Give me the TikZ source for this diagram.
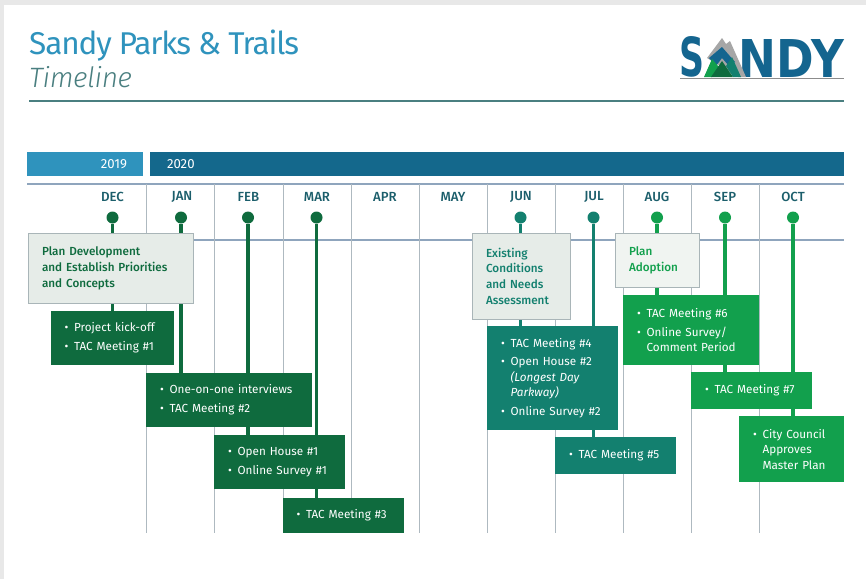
\documentclass[tikz,border=0pt]{standalone}
\usepackage{fontspec}
\usepackage{graphicx}
\setmainfont{Fira Sans}
\newfontfamily\lightf{Fira Sans Light}
\newfontfamily\titlef{Fira Sans}
\newfontfamily\medf{Fira Sans Medium}
\newfontfamily\logof{DejaVu Sans}
\definecolor{cblue}{HTML}{2F93BD}
\definecolor{cnavy}{HTML}{14688C}
\definecolor{clogo}{HTML}{14658F}
\definecolor{crule}{HTML}{4A7F80}
\definecolor{cgrid}{HTML}{8FA5BD}
\definecolor{cvert}{HTML}{AEB9C0}
\definecolor{cdark}{HTML}{0F6B3E}
\definecolor{cteal}{HTML}{13806F}
\definecolor{cgreen}{HTML}{12A04D}
\definecolor{cmonth}{HTML}{1B5E6B}
\definecolor{cphase}{HTML}{E6ECE8}
\definecolor{cedge}{HTML}{A9B5B8}
\newcommand{\bul}[1]{\makebox[9.6pt][l]{\textbullet}#1}
\newcommand{\cont}[1]{\hspace*{9.6pt}{#1}}
\newcommand{\bx}[7]{%
  \pgfmathsetmacro{\bw}{#4-#2}\pgfmathsetmacro{\bh}{#5-#3}\pgfmathsetmacro{\tw}{#4-#2-28}%
  \node[#6,anchor=north west,minimum width=\bw pt,minimum height=\bh pt,text width=\tw pt] (#1) at (#2,#3) {#7};}
\pgfdeclarelayer{gridlayer}
\pgfdeclarelayer{stemlayer}
\pgfsetlayers{gridlayer,stemlayer,main}
\tikzset{
  items/.style={inner xsep=14pt,inner ysep=0pt,text=white,align=left,font=\fontsize{11.7}{15.5}\selectfont,outer sep=0pt},
  dk/.style={items,fill=cdark},
  tl/.style={items,fill=cteal},
  gr/.style={items,fill=cgreen},
  phase/.style={draw=cedge,line width=.8pt,fill=cphase,inner xsep=14pt,inner ysep=0pt,align=left,outer sep=0pt,font=\medf\fontsize{11.7}{15.7}\selectfont},
  month/.style={text=cmonth,font=\medf\fontsize{13.2}{15}\selectfont,inner sep=0pt},
  dot/.style={circle,inner sep=0pt,minimum size=12pt},
  stem/.style={line width=3.6pt},
  yearbar/.style={inner sep=0pt,outer sep=0pt,text=white,font=\fontsize{13.2}{15}\selectfont},
  vgrid/.style={draw=cvert,line width=.9pt},
  hgrid/.style={draw=cgrid,line width=1.2pt},
}
\begin{document}
\begin{tikzpicture}[x=1pt,y=-1pt]
\useasboundingbox (0,0) rectangle (866,579);
\begin{pgfonlayer}{gridlayer}
\fill[white] (0,0) rectangle (866,579);
\fill[black!9] (0,0) rectangle (866,4.5);
\fill[black!9] (0,0) rectangle (4,579);
\draw[hgrid] (27,184) -- (844,184);
\draw[hgrid] (146,240) -- (844,240);
\foreach \x in {146,214.5,283,351,419,487,555,623,691,759}
  \draw[vgrid] (\x,184) -- (\x,533);
\end{pgfonlayer}
% title
\node[anchor=base west,inner sep=0pt,text=cblue,font=\titlef\addfontfeature{LetterSpace=-3.6}\fontsize{31.5}{36}\selectfont] (title) at (29,54) {Sandy Parks \& Trails};
\node[anchor=base west,inner sep=0pt,text=crule,font=\lightf\itshape\addfontfeature{LetterSpace=-1.4}\fontsize{28}{32}\selectfont] (subtitle) at (29,87) {Timeline};
\draw[crule,line width=1.2pt] (29,101) -- (844,101);
% logo
\node[anchor=south west,inner sep=0pt,text=clogo] (logoS) at (679,77.5) {\resizebox{25pt}{40pt}{\logof\bfseries S}};
\node[anchor=south east,inner sep=0pt,text=clogo] (logoNDY) at (844,77.5) {\resizebox{105pt}{38pt}{\logof\bfseries NDY}};
\fill[black!35] (707,58) -- (722,38) -- (726,44) -- (730,41) -- (746,77) -- (738,77) -- cycle;
\fill[clogo] (709,58) -- (722,47) -- (735,62) -- (729,66) -- (722,58) -- (716,66) -- cycle;
\fill[cgreen] (704,77) -- (712,59) -- (719,67) -- (712,77) -- cycle;
\fill[cteal] (726,66) -- (732,57) -- (741,77) -- (733,77) -- cycle;
\fill[cdark] (711,77) -- (722,61) -- (733,77) -- cycle;
\draw[black!45,line width=.6pt] (680,77.8) -- (844,77.8);
% year bars
\bx{y19}{27}{152}{143}{176}{yearbar,fill=cblue}{\hfill 2019\hspace*{2pt}}
\bx{y20}{150}{152}{844}{176}{yearbar,fill=cnavy}{\hspace*{3pt}2020}
% months
\foreach \n/\x in {DEC/112.5,JAN/182,FEB/248.5,MAR/317,APR/385,MAY/453,JUN/521,JUL/594,AUG/657,SEP/725,OCT/793}
  \node[month] (m\n) at (\x,197) {\n};
% dots
\node[dot,fill=cdark] (dDEC) at (112.5,217.5) {};
\node[dot,fill=cdark] (dJAN) at (181,217.5) {};
\node[dot,fill=cdark] (dFEB) at (248,217.5) {};
\node[dot,fill=cdark] (dMAR) at (316.5,217.5) {};
\node[dot,fill=cteal] (dJUN) at (520.5,217.5) {};
\node[dot,fill=cteal] (dJUL) at (593.5,217.5) {};
\node[dot,fill=cgreen] (dAUG) at (657,217.5) {};
\node[dot,fill=cgreen] (dSEP) at (725,217.5) {};
\node[dot,fill=cgreen] (dOCT) at (793,217.5) {};
% item boxes
\bx{b1}{50.5}{310.5}{174}{365}{dk}{\bul{Project kick-off}\\[3.5pt]\bul{TAC Meeting \#1}}
\bx{b2}{146}{373}{312}{427}{dk}{\bul{One-on-one interviews}\\[3.5pt]\bul{TAC Meeting \#2}}
\bx{b3}{214}{435}{344.5}{489}{dk}{\bul{Open House \#1}\\[3.5pt]\bul{Online Survey \#1}}
\bx{b4}{282.5}{497.5}{404}{533}{dk}{\bul{TAC Meeting \#3}}
\bx{b5}{487}{326}{617.5}{430}{tl}{\bul{TAC Meeting \#4}\\[3pt]\bul{Open House \#2}\\\cont{\itshape (Longest Day}\\\cont{\itshape Parkway)}\\[3pt]\bul{Online Survey \#2}}
\bx{b6}{555}{437}{676}{473.5}{tl}{\bul{TAC Meeting \#5}}
\bx{b7}{623}{295}{759}{365}{gr}{\bul{TAC Meeting \#6}\\[3.5pt]\bul{Online Survey/}\\\cont{Comment Period}}
\bx{b8}{691}{372}{812}{408.5}{gr}{\bul{TAC Meeting \#7}}
\bx{b9}{739}{416}{844}{482}{gr}{\bul{City Council}\\\cont{Approves}\\\cont{Master Plan}}
% stems
\begin{pgfonlayer}{stemlayer}
\draw[stem,cdark] (dDEC) -- (dDEC |- b1.north);
\draw[stem,cdark] (dJAN) -- (dJAN |- b2.north);
\draw[stem,cdark] (dFEB) -- (dFEB |- b3.north);
\draw[stem,cdark] (dMAR) -- (dMAR |- b4.north);
\draw[stem,cteal] (dJUN) -- (dJUN |- b5.north);
\draw[stem,cteal] (dJUL) -- (dJUL |- b6.north);
\draw[stem,cgreen] (dAUG) -- (dAUG |- b7.north);
\draw[stem,cgreen] (dSEP) -- (dSEP |- b8.north);
\draw[stem,cgreen] (dOCT) -- (dOCT |- b9.north);
\end{pgfonlayer}
% phase boxes
\bx{p1}{28}{233.5}{193}{303}{phase,text=cdark}{Plan Development\\and Establish Priorities\\and Concepts}
\bx{p2}{472}{233.5}{570}{319}{phase,text=cteal}{Existing\\Conditions\\and Needs\\Assessment}
\bx{p3}{615}{233.5}{699}{287}{phase,text=cgreen,fill=cphase!60!white}{Plan\\Adoption}
\end{tikzpicture}
\end{document}
